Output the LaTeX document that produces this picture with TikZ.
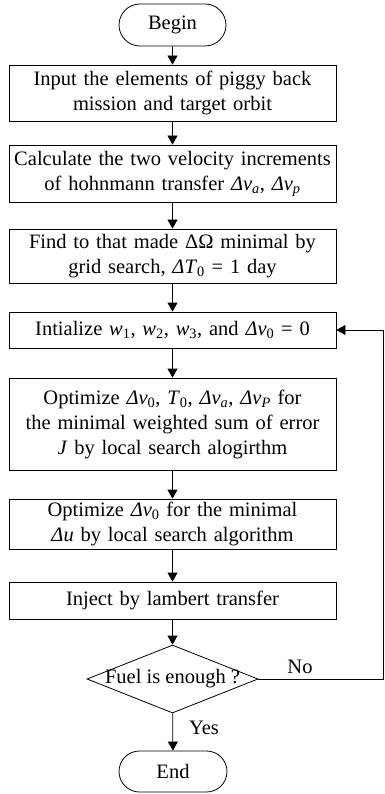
\documentclass[tikz,border=0pt]{standalone}
\usepackage{fontspec}
\setmainfont{Liberation Serif}
\usetikzlibrary{shapes.geometric,shapes.misc,arrows.meta}
\newcommand\sbs[1]{\textsubscript{#1}}
\begin{document}
\begin{tikzpicture}[x=1pt,y=-1pt,
  every node/.style={font=\fontsize{20.5}{25}\selectfont},
  proc/.style={draw,line width=0.8pt,rectangle,minimum width=327pt,inner sep=0pt,align=center,text width=325pt},
  term/.style={draw,line width=0.8pt,rounded rectangle,minimum width=107pt,minimum height=42pt,inner sep=0pt},
  dec/.style={draw,line width=0.8pt,diamond,minimum width=171pt,minimum height=68pt,inner sep=0pt},
  arr/.style={line width=0.8pt,-{Triangle[length=9pt,width=10pt]}},
  lab/.style={inner sep=0pt}]
\useasboundingbox (0,0) rectangle (384,794);
\node[term] (begin) at (172.5,25) {Begin};
\node[proc,minimum height=56pt] (b1) at (172.5,93) {Input the elements of piggy back\\mission and target orbit};
\node[proc,minimum height=57pt] (b2) at (172.5,173.5) {Calculate the two velocity increments\\of hohnmann transfer \textit{Δv}\sbs{\itshape a}, \textit{Δv}\sbs{\itshape p}};
\node[proc,minimum height=54pt] (b3) at (172.5,256) {Find to that made ΔΩ minimal by\\grid search, \textit{ΔT}\sbs{0} = 1 day};
\node[proc,minimum height=36pt] (b4) at (172.5,330) {Intialize \textit{w}\sbs{1}, \textit{w}\sbs{2}, \textit{w}\sbs{3}, and \textit{Δv}\sbs{0} = 0};
\node[proc,minimum height=92pt] (b5) at (172.5,424) {Optimize \textit{Δv}\sbs{0}, \textit{T}\sbs{0}, \textit{Δv}\sbs{\itshape a}, \textit{Δv}\sbs{\itshape P} for\\the minimal weighted sum of error\\\textit{J} by local search alogirthm};
\node[proc,minimum height=50pt] (b6) at (172.5,524) {Optimize \textit{Δv}\sbs{0} for the minimal\\\textit{Δu} by local search algorithm};
\node[proc,minimum height=37pt] (b7) at (172.5,600.5) {Inject by lambert transfer};
\node[dec] (d) at (172.5,679) {\makebox[0pt]{Fuel is enough ?}};
\node[term,minimum height=41pt,minimum width=108pt] (end) at (173,771.5) {End};
\coordinate (c1) at (383,679);
\coordinate (c2) at (383,330);
\draw[arr] (begin) -- (b1);
\draw[arr] (b1) -- (b2);
\draw[arr] (b2) -- (b3);
\draw[arr] (b3) -- (b4);
\draw[arr] (b4) -- (b5);
\draw[arr] (b5) -- (b6);
\draw[arr] (b6) -- (b7);
\draw[arr] (b7) -- (d);
\draw[arr] (d) -- (end);
\draw[arr] (d.east) -- (c1) -- (c2) -- (b4.east);
\node[lab] (no) at (300,667) {No};
\node[lab] (yes) at (204,728) {Yes};
\end{tikzpicture}
\end{document}
